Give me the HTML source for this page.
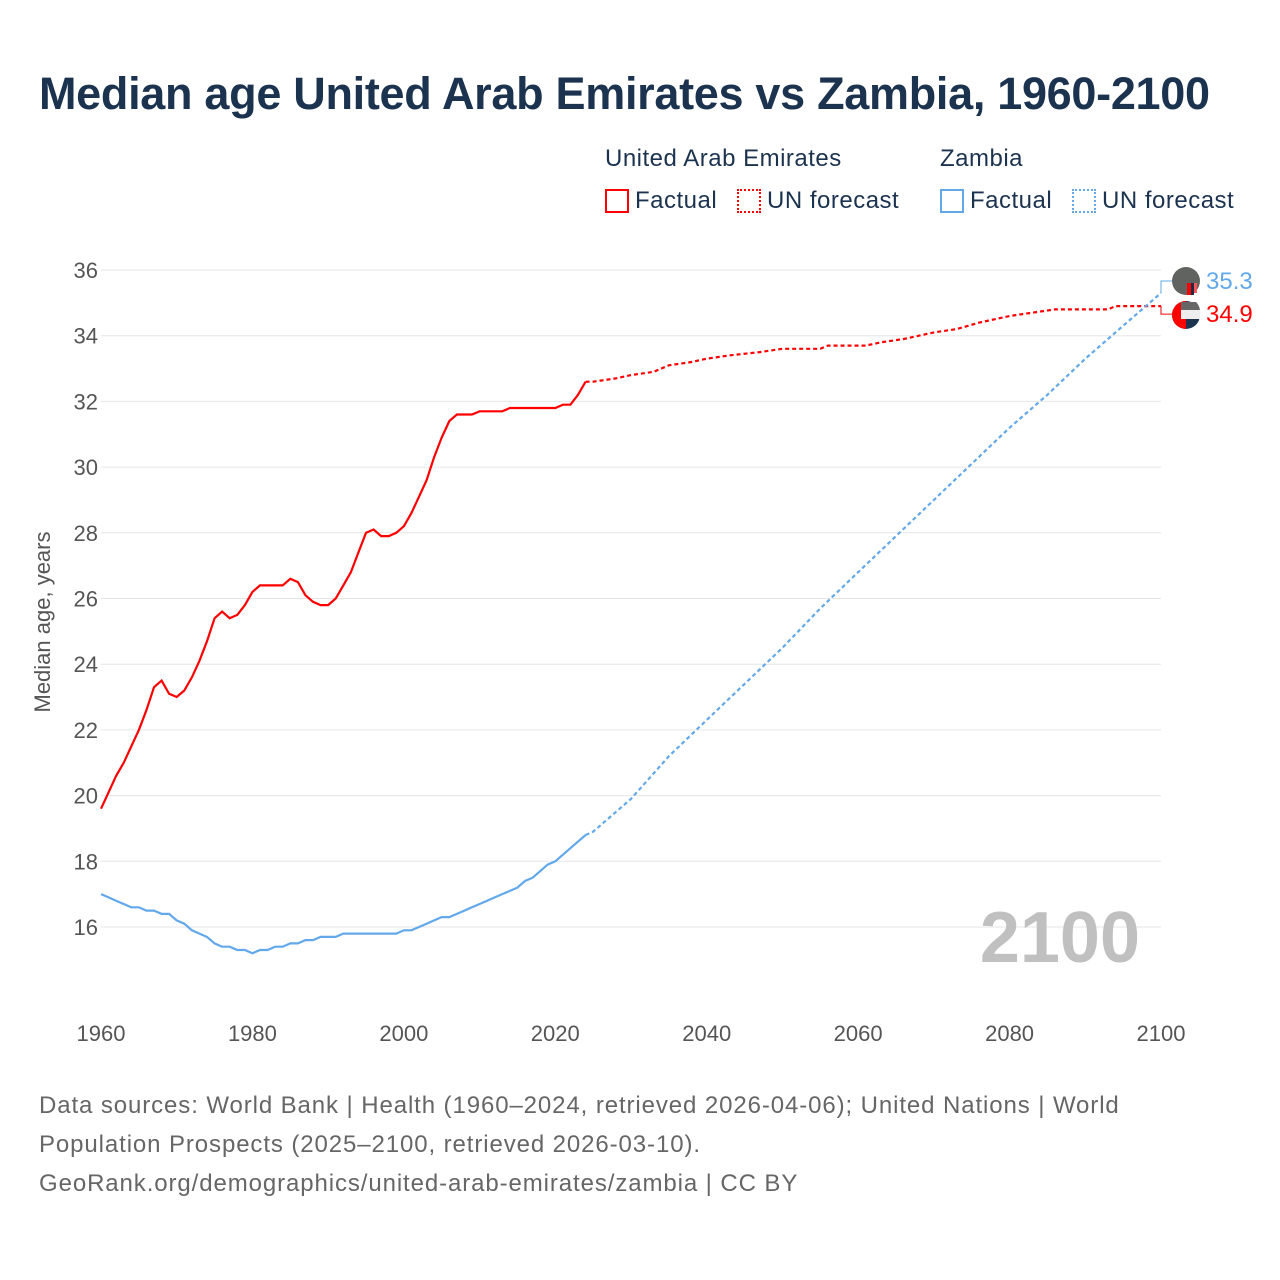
<!DOCTYPE html>
<html><head><meta charset="utf-8"><style>
body{margin:0;background:#fff;font-family:"Liberation Sans",sans-serif;}
#wrap{position:relative;width:1280px;height:1280px;overflow:hidden;}
.t{position:absolute;white-space:nowrap;}
</style></head><body><div id="wrap">
<div class="t" style="left:39px;top:68px;font-size:45px;font-weight:bold;color:#1c3350;letter-spacing:-0.3px">Median age United Arab Emirates vs Zambia, 1960-2100</div>
<div class="t" style="left:605px;top:145px;font-size:24px;color:#1c3350;letter-spacing:0.5px">United Arab Emirates</div>
<div class="t" style="left:940px;top:145px;font-size:24px;color:#1c3350;letter-spacing:0.5px">Zambia</div>
<div class="t" style="left:605px;top:187px;font-size:24px;color:#1c3350;letter-spacing:0.5px"><span style="display:inline-block;width:20px;height:20px;border:2px solid #f00;vertical-align:-5px;margin-right:6px"></span>Factual</div>
<div class="t" style="left:737px;top:187px;font-size:24px;color:#1c3350;letter-spacing:0.5px"><span style="display:inline-block;width:20px;height:20px;border:2px dotted #f00;vertical-align:-5px;margin-right:6px"></span>UN forecast</div>
<div class="t" style="left:940px;top:187px;font-size:24px;color:#1c3350;letter-spacing:0.5px"><span style="display:inline-block;width:20px;height:20px;border:2px solid #62a8ea;vertical-align:-5px;margin-right:6px"></span>Factual</div>
<div class="t" style="left:1072px;top:187px;font-size:24px;color:#1c3350;letter-spacing:0.5px"><span style="display:inline-block;width:20px;height:20px;border:2px dotted #62a8ea;vertical-align:-5px;margin-right:6px"></span>UN forecast</div>
<svg id="chart" width="1280" height="1280" style="position:absolute;left:0;top:0"></svg>
<div class="t" style="left:39px;top:1086px;font-size:24px;line-height:39px;color:#666;letter-spacing:0.9px">Data sources: World Bank | Health (1960–2024, retrieved 2026-04-06); United Nations | World<br>Population Prospects (2025–2100, retrieved 2026-03-10).<br>GeoRank.org/demographics/united-arab-emirates/zambia | CC BY</div>
</div>
<script>
const yTicks=[16,18,20,22,24,26,28,30,32,34,36];
const xTicks=[1960,1980,2000,2020,2040,2060,2080,2100];
const uaeFactual=[19.6,20.1,20.6,21.0,21.5,22.0,22.6,23.3,23.5,23.1,23.0,23.2,23.6,24.1,24.7,25.4,25.6,25.4,25.5,25.8,26.2,26.4,26.4,26.4,26.4,26.6,26.5,26.1,25.9,25.8,25.8,26.0,26.4,26.8,27.4,28.0,28.1,27.9,27.9,28.0,28.2,28.6,29.1,29.6,30.3,30.9,31.4,31.6,31.6,31.6,31.7,31.7,31.7,31.7,31.8,31.8,31.8,31.8,31.8,31.8,31.8,31.9,31.9,32.2,32.6];
const zamFactual=[17.0,16.9,16.8,16.7,16.6,16.6,16.5,16.5,16.4,16.4,16.2,16.1,15.9,15.8,15.7,15.5,15.4,15.4,15.3,15.3,15.2,15.3,15.3,15.4,15.4,15.5,15.5,15.6,15.6,15.7,15.7,15.7,15.8,15.8,15.8,15.8,15.8,15.8,15.8,15.8,15.9,15.9,16.0,16.1,16.2,16.3,16.3,16.4,16.5,16.6,16.7,16.8,16.9,17.0,17.1,17.2,17.4,17.5,17.7,17.9,18.0,18.2,18.4,18.6,18.8];
const fcYears=[2024,2025,2028,2030,2033,2035,2038,2040,2043,2047,2050,2055,2056,2061,2063,2066,2070,2073,2076,2078,2080,2083,2086,2093,2094,2100];
const uaeForecast=[32.6,32.6,32.7,32.8,32.9,33.1,33.2,33.3,33.4,33.5,33.6,33.6,33.7,33.7,33.8,33.9,34.1,34.2,34.4,34.5,34.6,34.7,34.8,34.8,34.9,34.9];
const zamYears=[2024,2025,2030,2035,2040,2045,2050,2055,2060,2065,2070,2075,2080,2085,2090,2095,2100];
const zamForecast=[18.8,18.9,19.9,21.2,22.3,23.4,24.5,25.7,26.8,27.9,29.0,30.1,31.2,32.2,33.3,34.3,35.3];
const X=y=>101+(y-1960)*(1060/140);
const Y=v=>927-(v-16)*32.85;
const svg=document.getElementById('chart');const NS='http://www.w3.org/2000/svg';
function mk(tag,attrs,txt){const e=document.createElementNS(NS,tag);for(const k in attrs)e.setAttribute(k,attrs[k]);if(txt!==undefined)e.textContent=txt;svg.appendChild(e);return e;}
yTicks.forEach(t=>{const g=mk('line',{x1:101,x2:1161,y1:Y(t),y2:Y(t),stroke:'#e6e6e6','stroke-width':1});


const l=mk('text',{x:98,y:Y(t)+8,'text-anchor':'end','font-size':22,fill:'#555','font-family':'Liberation Sans'},t);

});
xTicks.forEach(t=>{const l=mk('text',{x:X(t),y:1041,'text-anchor':'middle','font-size':22,fill:'#555','font-family':'Liberation Sans'},t);

});
const yt=mk('text',{transform:'translate(50,622) rotate(-90)','text-anchor':'middle','font-size':22,fill:'#555','font-family':'Liberation Sans'},'Median age, years');


const yr=mk('text',{x:1140,y:962,'text-anchor':'end','font-size':72,'font-weight':'bold',fill:'#c0c0c0','font-family':'Liberation Sans'},'2100');


function line(xs,vs,color,dash,name){const d=xs.map((x,i)=>(i?'L':'M')+X(x).toFixed(1)+','+Y(vs[i]).toFixed(1)).join('');
const p=mk('path',{d:d,fill:'none',stroke:color,'stroke-width':2.2,'stroke-dasharray':dash||'none'});

}
const fy=uaeFactual.map((_,i)=>1960+i);
line(fy,uaeFactual,'#f00',null,'uae-factual-line');
line(fy,zamFactual,'#62a8ea',null,'zambia-factual-line');
line(fcYears,uaeForecast,'#f00','4,3','uae-forecast-line');
line(zamYears,zamForecast,'#62a8ea','4,3','zambia-forecast-line');
const uL=uaeForecast[uaeForecast.length-1],zL=zamForecast[zamForecast.length-1];
const c1=mk('path',{d:`M${X(2100)},${Y(uL)}H1161V${Y(uL)+8}H1172`,fill:'none',stroke:'#f00','stroke-width':1});


const c2=mk('path',{d:`M${X(2100)},${Y(zL)}V281H1172`,fill:'none',stroke:'#62a8ea','stroke-width':1});


const f1=mk('circle',{cx:1186,cy:281,r:14,fill:'#60635f'});


mk('rect',{x:1187,y:283,width:4,height:12,fill:'#f00'});
mk('rect',{x:1191,y:283,width:3,height:12,fill:'#1c2a44'});
mk('rect',{x:1194,y:283,width:3,height:10,fill:'#f55'});
const f2=mk('circle',{cx:1186,cy:315,r:14,fill:'#1c3350'});


mk('path',{d:'M1186,301A14,14 0 0,0 1186,329Z',fill:'#f00'});
mk('path',{d:'M1181,302H1196A14,14 0 0,1 1200,310H1181Z',fill:'#666'});
mk('rect',{x:1181,y:310,width:19,height:9,fill:'#eee'});
const l1=mk('text',{x:1206,y:289,'font-size':24,fill:'#62a8ea','font-family':'Liberation Sans'},zL.toFixed(1));


const l2=mk('text',{x:1206,y:322,'font-size':24,fill:'#f00','font-family':'Liberation Sans'},uL.toFixed(1));


</script></body></html>
